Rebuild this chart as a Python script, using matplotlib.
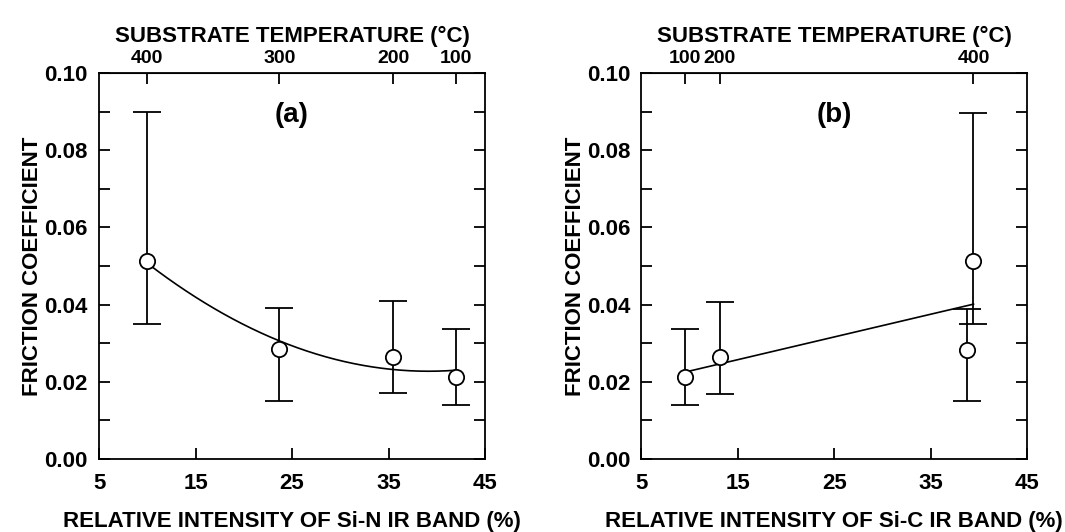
import matplotlib
matplotlib.use("Agg")
import matplotlib.pyplot as plt
import numpy as np

plt.rcParams['font.family'] = ['Liberation Sans', 'DejaVu Sans']
plt.rcParams['font.weight'] = 'bold'

# ---------------- panel (a): Si-N band ----------------
sin_x = [10.0, 23.7, 35.5, 42.0]
sin_y = [0.0513, 0.0284, 0.0265, 0.0213]
sin_lo = [0.0349, 0.0150, 0.0170, 0.0140]
sin_hi = [0.0898, 0.0390, 0.0409, 0.0338]
sin_temp = ['400', '300', '200', '100']

# ---------------- panel (b): Si-C band ----------------
sic_x = [9.55, 13.1, 38.8, 39.45]
sic_y = [0.0213, 0.0263, 0.0282, 0.0512]
sic_lo = [0.0140, 0.0169, 0.0149, 0.0349]
sic_hi = [0.0338, 0.0408, 0.0388, 0.0897]
sic_temp_x = [9.55, 13.1, 39.45]
sic_temp = ['100', '200', '400']

FS = 16

fig = plt.figure(figsize=(10.65, 5.32), dpi=100)
ax_a = fig.add_axes([0.093, 0.1372, 0.3624, 0.7256])
ax_b = fig.add_axes([0.6023, 0.1372, 0.3620, 0.7256])


def style_axes(ax, xlabel, temp_x, temp_lab, tag):
    ax.set_xlim(5, 45)
    ax.set_ylim(0, 0.10)
    ax.set_xticks([5, 15, 25, 35, 45])
    ax.set_yticks([0, 0.02, 0.04, 0.06, 0.08, 0.10])
    ax.set_yticks(np.arange(0.01, 0.10, 0.02), minor=True)
    ax.set_yticklabels(['%.2f' % v for v in ax.get_yticks()])
    ax.tick_params(axis='both', which='both', direction='in', length=8, width=1.3,
                   labelsize=FS)
    ax.tick_params(axis='y', which='both', right=True, pad=8)
    ax.tick_params(axis='x', pad=10)
    for s in ax.spines.values():
        s.set_linewidth(1.3)
    ax.set_xlabel(xlabel, fontsize=FS, fontweight='bold')
    ax.xaxis.set_label_coords(0.5, -0.135)
    ax.set_ylabel('FRICTION COEFFICIENT', fontsize=FS, fontweight='bold')
    ax.yaxis.set_label_coords(-0.145, 0.5)

    top = ax.secondary_xaxis('top')
    top.set_xticks(temp_x)
    top.set_xticklabels(temp_lab)
    top.tick_params(direction='in', length=8, width=1.3, labelsize=14, pad=4)
    top.set_xlabel('SUBSTRATE TEMPERATURE (°C)', fontsize=FS, fontweight='bold',
                   labelpad=6)
    ax.text(0.5, 0.89, tag, transform=ax.transAxes, ha='center', va='center',
            fontsize=20, fontweight='bold')


def draw_points(ax, x, y, lo, hi):
    y = np.array(y)
    yerr = [y - np.array(lo), np.array(hi) - y]
    ax.errorbar(x, y, yerr=yerr, fmt='o', ms=11, mfc='white', mec='black',
                mew=1.3, ecolor='black', elinewidth=1.3, capsize=10,
                capthick=1.3, zorder=3)


# (a) quadratic fit
draw_points(ax_a, sin_x, sin_y, sin_lo, sin_hi)
coef = np.polyfit(sin_x, sin_y, 2)
xs = np.linspace(min(sin_x), max(sin_x), 200)
ax_a.plot(xs, np.polyval(coef, xs), color='black', lw=1.2, zorder=2)
style_axes(ax_a, 'RELATIVE INTENSITY OF Si-N IR BAND (%)', sin_x, sin_temp, '(a)')

# (b) linear fit
draw_points(ax_b, sic_x, sic_y, sic_lo, sic_hi)
coef_b = np.polyfit(sic_x, sic_y, 1)
xs_b = np.array([min(sic_x), max(sic_x)])
ax_b.plot(xs_b, np.polyval(coef_b, xs_b), color='black', lw=1.2, zorder=2)
style_axes(ax_b, 'RELATIVE INTENSITY OF Si-C IR BAND (%)', sic_temp_x, sic_temp, '(b)')

fig.savefig('out.png', dpi=100)
